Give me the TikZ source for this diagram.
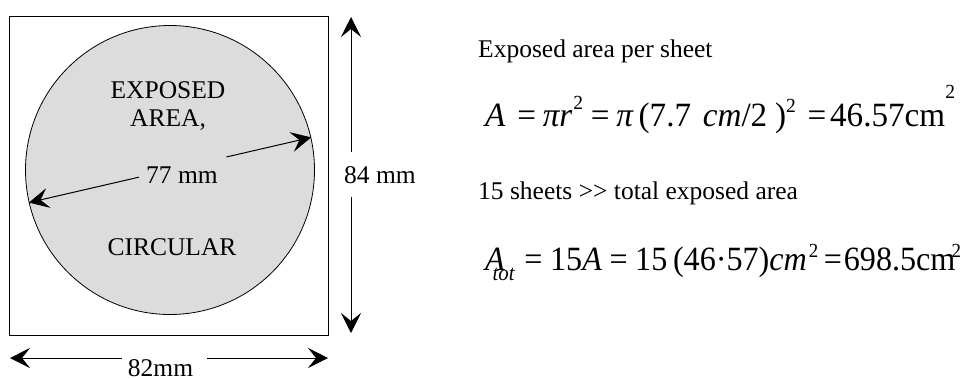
\documentclass[tikz,border=0pt]{standalone}
\usepackage{fontspec}
\setmainfont{Liberation Serif}
\usepackage{graphicx}
\usetikzlibrary{arrows.meta,calc}
\definecolor{cinzaarea}{RGB}{220,220,220}
\newcommand{\expo}[2][0.3em]{\raisebox{#1}{\fontsize{20}{20}\selectfont #2}}

\tikzset{
  seta/.style={-{Stealth[length=20pt,width=20pt,inset=8pt]},line width=1pt},
  rotulo/.style={font=\fontsize{25.5}{28}\selectfont,inner sep=0pt},
  equacao/.style={font=\fontsize{34}{38}\selectfont,inner sep=0pt,anchor=base west}
}

\begin{document}
\begin{tikzpicture}[x=1pt,y=-1pt]
\useasboundingbox (0,0) rectangle (962,378);
% Folha e area exposta
\node[draw,line width=1pt,minimum width=319pt,minimum height=319pt,inner sep=0pt,anchor=north west] (folha) at (9,16) {};
\node[circle,draw,fill=cinzaarea,line width=0.8pt,minimum size=289pt,inner sep=0pt] (disco) at (170,170) {};
\node[rotulo,align=center] (lblexposta) at (168,106) {EXPOSED\\AREA,};
\node[rotulo] (lblcircular) at (172,247) {CIRCULAR};
% Diametro
\node[rotulo] (lbl77) at (182,175) {77 mm};
\coordinate (d1) at (disco.193);
\coordinate (d2) at (disco.13);
\coordinate (g1) at ($(d1)!0.39!(d2)$);
\coordinate (g2) at ($(d1)!0.70!(d2)$);
\draw[seta] (g1) -- (d1);
\draw[seta] (g2) -- (d2);
% Medidas
\node[rotulo] (lbl84) at (380,175) {84 mm};
\coordinate (v1) at (351,17);
\coordinate (v2) at (351,333);
\draw[seta] (v1 |- 0,152) -- (v1);
\draw[seta] (v2 |- 0,197) -- (v2);
\node[rotulo,anchor=base] (lbl82) at (160.5,376) {82mm};
\coordinate (h1) at (10,358);
\coordinate (h2) at (328,358);
\draw[seta] (h1 -| lbl82.west) ++(-6,0) -- (h1);
\draw[seta] (h2 -| lbl82.east) ++(14,0) -- (h2);
% Calculos
\node[rotulo,anchor=base west] (txtfolha) at (478,57) {Exposed area per sheet};
\node[equacao] (eqarea) at (485,126) {\scalebox{0.975}[1]{\textit{A}\kern12pt=\kern7pt\textit{πr}\kern1pt\expo[0.5em]{2}\kern8pt=\kern7pt\textit{π}\kern5pt(7.7\kern12pt\textit{cm}/2\kern8pt)\expo[0.4em]{2}\kern12pt=\kern4pt46.57cm\expo[0.8em]{2}}};
\node[rotulo,anchor=base west] (txtfolhas) at (478,199) {15 sheets >{}> total exposed area};
\node[equacao] (eqtotal) at (485,270) {\scalebox{0.945}[1]{\textit{A}\kern-13pt\raisebox{-0.3em}{\fontsize{22}{22}\selectfont\textit{tot}}\kern10pt=\kern8pt15\textit{A}\kern8pt=\kern8pt15\kern6pt(46·57)\textit{cm}\kern2pt\expo[0.38em]{2}\kern6pt=\kern2pt698.5cm\kern-4pt\expo[0.38em]{2}}};
\end{tikzpicture}
\end{document}
